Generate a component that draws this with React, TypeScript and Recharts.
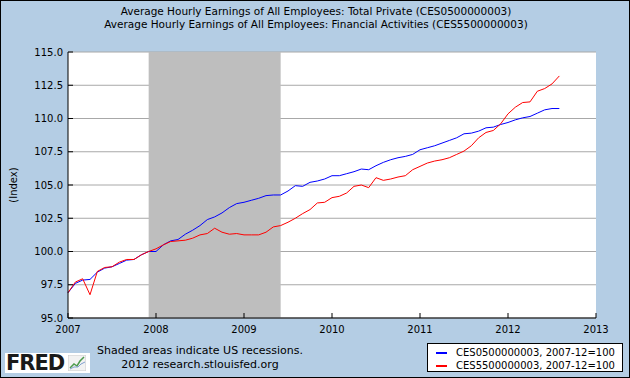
import React from 'react';
import { LineChart, Line, XAxis, YAxis, CartesianGrid, ReferenceArea } from 'recharts';

const titleLines = [
  'Average Hourly Earnings of All Employees: Total Private (CES0500000003)',
  'Average Hourly Earnings of All Employees: Financial Activities (CES5500000003)',
];
const seriesNames = ['CES0500000003, 2007-12=100', 'CES5500000003, 2007-12=100'];
const seriesColors = ['#0000ff', '#ff0000'];

const yearTicks = ['2007', '2008', '2009', '2010', '2011', '2012', '2013'];
const yTicks = [95, 97.5, 100, 102.5, 105, 107.5, 110, 112.5, 115];

const recessionStart = '2007-12';
const recessionEnd = '2009-06';

const totalPrivate = [
  96.9, 97.6, 97.85, 97.9, 98.45, 98.75, 98.85, 99.1, 99.35, 99.4, 99.75, 100.0,
  100.0, 100.5, 100.8, 100.9, 101.3, 101.6, 101.95, 102.4, 102.6, 102.9, 103.3, 103.6,
  103.7, 103.85, 104.0, 104.2, 104.25, 104.25, 104.55, 104.95, 104.9, 105.2, 105.3, 105.45,
  105.7, 105.7, 105.85, 106.0, 106.2, 106.15, 106.45, 106.7, 106.9, 107.05, 107.15, 107.3,
  107.65, 107.8, 107.95, 108.15, 108.35, 108.55, 108.85, 108.9, 109.05, 109.3, 109.35, 109.55,
  109.7, 109.9, 110.05, 110.15, 110.4, 110.65, 110.75, 110.75,
];
const financial = [
  96.9, 97.7, 97.95, 96.75, 98.5, 98.8, 98.85, 99.2, 99.4, 99.4, 99.75, 100.0,
  100.2, 100.5, 100.75, 100.8, 100.85, 101.0, 101.25, 101.35, 101.75, 101.45, 101.3, 101.35,
  101.25, 101.25, 101.25, 101.45, 101.85, 101.95, 102.2, 102.5, 102.85, 103.15, 103.65, 103.7,
  104.05, 104.15, 104.4, 104.9, 105.0, 104.8, 105.55, 105.35, 105.45, 105.6, 105.7, 106.15,
  106.4, 106.65, 106.8, 106.9, 107.05, 107.3, 107.55, 107.95, 108.55, 108.95, 109.1, 109.6,
  110.35, 110.85, 111.2, 111.25, 112.05, 112.25, 112.6, 113.2,
];

const startYear = 2007;
const monthLabels: string[] = totalPrivate.map((_, i) => {
  const y = startYear + Math.floor(i / 12);
  const m = (i % 12) + 1;
  return `${y}-${m < 10 ? '0' + m : m}`;
});

const data = monthLabels.map((label, i) => ({
  i,
  label,
  tp: totalPrivate[i],
  fin: financial[i],
}));

const idx = (s: string) => {
  const [y, m] = s.split('-').map(Number);
  return (y - startYear) * 12 + (m - 1);
};

const FONT = '"DejaVu Sans", Verdana, sans-serif';

export default function App() {
  return (
    <div
      style={{
        position: 'absolute',
        left: 0,
        top: 0,
        width: 630,
        height: 378,
        background: '#b4cde4',
        boxShadow: 'inset 0 0 0 1px #000',
        fontFamily: FONT,
        color: '#000',
      }}
    >
      <div style={{ position: 'absolute', left: 0, top: 5, width: 632, textAlign: 'center', fontSize: 10.5, lineHeight: '13px' }}>
        {titleLines.map((t) => (
          <div key={t}>{t}</div>
        ))}
      </div>
      <LineChart
        width={630}
        height={378}
        data={data}
        margin={{ top: 52, right: 34, bottom: 0, left: 0 }}
        style={{ position: 'absolute', left: 0, top: 0 }}
      >
        <CartesianGrid vertical={false} stroke="#a8a8a8" fill="#ffffff" strokeWidth={1} />
        <ReferenceArea
          x1={idx(recessionStart)}
          x2={idx(recessionEnd)}
          y1={95}
          y2={115}
          fill="#bebebe"
          fillOpacity={1}
          stroke="none"
          ifOverflow="hidden"
        />
        <XAxis
          dataKey="i"
          type="number"
          domain={[0, 72]}
          ticks={[0, 12, 24, 36, 48, 60, 72]}
          tickFormatter={(v: number) => yearTicks[v / 12]}
          height={60}
          stroke="#000"
          tickSize={-5}
          tickMargin={13}
          tick={{ fill: '#000', fontSize: 10, fontFamily: FONT }}
          interval={0}
        />
        <YAxis
          type="number"
          domain={[95, 115]}
          ticks={yTicks}
          tickFormatter={(v: number) => v.toFixed(1)}
          width={68}
          stroke="#000"
          tickSize={-5}
          tickMargin={10}
          tick={{ fill: '#000', fontSize: 10, fontFamily: FONT }}
          interval={0}
          allowDataOverflow
        />
        <Line dataKey="tp" stroke={seriesColors[0]} strokeWidth={1} dot={false} isAnimationActive={false} type="linear" />
        <Line dataKey="fin" stroke={seriesColors[1]} strokeWidth={1} dot={false} isAnimationActive={false} type="linear" />
      </LineChart>
      <div
        style={{
          position: 'absolute',
          left: 13,
          top: 185,
          transform: 'translate(-50%, -50%) rotate(-90deg)',
          fontSize: 10,
          whiteSpace: 'nowrap',
        }}
      >
        (Index)
      </div>
      <div
        style={{
          position: 'absolute',
          left: 5,
          top: 353,
          width: 85,
          height: 20,
          background: '#fff',
          display: 'flex',
          alignItems: 'center',
        }}
      >
        <span
          style={{
            fontFamily: '"DejaVu Sans", sans-serif',
            fontWeight: 'bold',
            fontSize: 21,
            letterSpacing: -1,
            lineHeight: '20px',
            marginLeft: 1,
            color: '#1a1a1a',
          }}
        >
          FRED
        </span>
        <svg width={18} height={16} style={{ marginLeft: 4 }}>
          <rect x={0} y={0} width={18} height={16} fill="#f2f2f2" stroke="#cccccc" />
          <polyline points="2,13 6,9 9,11 12,6 16,2" fill="none" stroke="#4d9a4d" strokeWidth={1.5} />
          <polyline points="2,14 6,12 10,12 13,9 17,7" fill="none" stroke="#7f9fcf" strokeWidth={1} />
        </svg>
      </div>
      <div style={{ position: 'absolute', left: 97, top: 344, fontSize: 11, lineHeight: '14px', textAlign: 'center' }}>
        <div>Shaded areas indicate US recessions.</div>
        <div>2012 research.stlouisfed.org</div>
      </div>
      <div
        style={{
          position: 'absolute',
          left: 427,
          top: 343,
          width: 196,
          height: 29,
          background: '#fff',
          border: '1px solid #000',
          boxSizing: 'border-box',
          fontSize: 10,
        }}
      >
        {seriesNames.map((n, k) => (
          <div key={n} style={{ position: 'absolute', left: 8, top: 2 + k * 13, height: 13, display: 'flex', alignItems: 'center' }}>
            <span style={{ display: 'inline-block', width: 11, height: 2, background: seriesColors[k], marginRight: 9 }} />
            <span>{n}</span>
          </div>
        ))}
      </div>
    </div>
  );
}
